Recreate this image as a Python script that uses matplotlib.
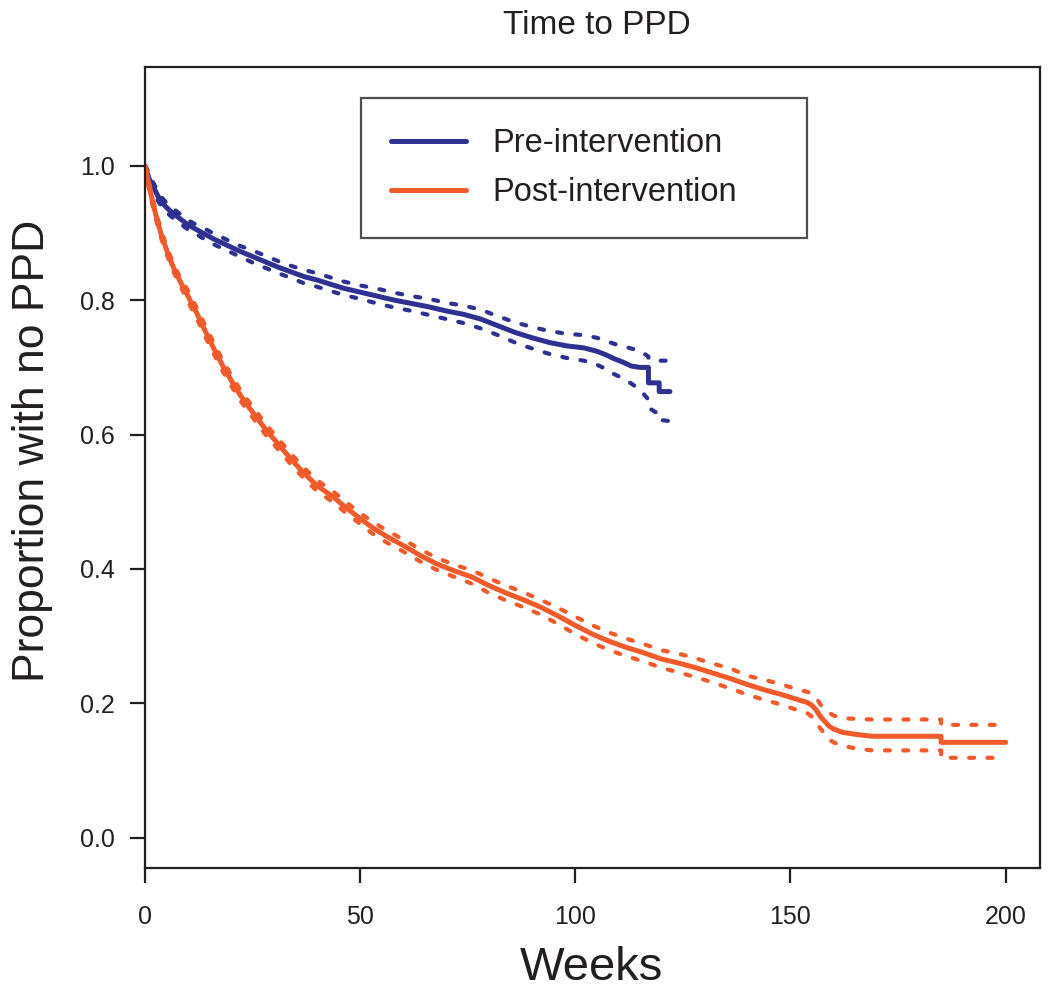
import matplotlib
matplotlib.use("Agg")
import matplotlib.pyplot as plt

plt.rcParams['font.family'] = ['Liberation Sans', 'DejaVu Sans']

# Pre-intervention Kaplan-Meier curve (weeks, survival, 95% CI)
pre_t = [0, 0.5, 1, 2, 3, 4, 5, 6, 8, 10, 12, 14, 16, 18, 20, 22, 25, 28, 31, 34,
         37, 40, 43, 46, 50, 54, 58, 62, 66, 70, 74, 78, 82, 86, 90, 94, 98, 102,
         105, 107, 109, 111, 113, 115, 117, 117, 119.5, 119.5, 122]
pre_s = [1.0, 0.99, 0.98, 0.968, 0.955, 0.945, 0.938, 0.932, 0.922, 0.912, 0.905,
         0.898, 0.891, 0.885, 0.879, 0.873, 0.865, 0.857, 0.849, 0.842, 0.835, 0.83,
         0.824, 0.818, 0.812, 0.806, 0.80, 0.795, 0.79, 0.784, 0.779, 0.772, 0.762,
         0.752, 0.744, 0.737, 0.732, 0.729, 0.724, 0.719, 0.713, 0.708, 0.702, 0.700,
         0.700, 0.677, 0.677, 0.664, 0.664]
pre_lo = [1.0, 0.985, 0.974, 0.962, 0.948, 0.938, 0.931, 0.925, 0.915, 0.905, 0.898,
          0.890, 0.883, 0.877, 0.871, 0.865, 0.856, 0.848, 0.840, 0.833, 0.825, 0.82,
          0.814, 0.808, 0.802, 0.795, 0.789, 0.784, 0.778, 0.772, 0.766, 0.758, 0.748,
          0.737, 0.728, 0.720, 0.714, 0.710, 0.704, 0.698, 0.690, 0.684, 0.676, 0.667,
          0.652, 0.640, 0.630, 0.622, 0.620]
pre_hi = [1.0, 0.995, 0.986, 0.974, 0.962, 0.952, 0.945, 0.939, 0.929, 0.919, 0.912,
          0.906, 0.899, 0.893, 0.887, 0.881, 0.874, 0.866, 0.858, 0.851, 0.845, 0.84,
          0.834, 0.828, 0.822, 0.817, 0.811, 0.806, 0.802, 0.796, 0.792, 0.786, 0.776,
          0.767, 0.760, 0.754, 0.750, 0.748, 0.744, 0.740, 0.735, 0.732, 0.728, 0.725,
          0.716, 0.713, 0.710, 0.710, 0.710]

# Post-intervention Kaplan-Meier curve
post_t = [0, 0.5, 1, 2, 3, 4, 5, 6, 7, 8, 9, 10, 11, 12, 13, 14, 15, 16, 17, 18, 19,
          20, 22, 24, 26, 28, 30, 32, 34, 36, 38, 40, 42, 44, 46, 48, 50, 53, 56, 60,
          64, 68, 72, 76, 80, 84, 88, 92, 96, 100, 104, 108, 112, 116, 120, 124, 128,
          132, 136, 140, 144, 148, 152, 154, 155, 156, 157, 158, 159, 160, 162, 165,
          169, 185, 185, 200]
post_s = [1.0, 0.985, 0.968, 0.94, 0.915, 0.893, 0.875, 0.858, 0.843, 0.83, 0.818,
          0.806, 0.793, 0.781, 0.768, 0.754, 0.741, 0.728, 0.716, 0.703, 0.692, 0.681,
          0.66, 0.642, 0.625, 0.608, 0.593, 0.578, 0.563, 0.549, 0.536, 0.524, 0.515,
          0.506, 0.495, 0.485, 0.475, 0.461, 0.449, 0.435, 0.42, 0.407, 0.397, 0.388,
          0.375, 0.364, 0.354, 0.343, 0.330, 0.316, 0.303, 0.292, 0.283, 0.275, 0.266,
          0.26, 0.253, 0.245, 0.237, 0.228, 0.22, 0.213, 0.205, 0.201, 0.197, 0.19,
          0.18, 0.173, 0.166, 0.162, 0.157, 0.154, 0.151, 0.151, 0.142, 0.142]
post_lo = [1.0, 0.979, 0.962, 0.934, 0.909, 0.887, 0.869, 0.852, 0.837, 0.824, 0.811,
           0.798, 0.785, 0.773, 0.760, 0.746, 0.733, 0.720, 0.708, 0.695, 0.684, 0.673,
           0.652, 0.634, 0.617, 0.600, 0.585, 0.570, 0.555, 0.541, 0.528, 0.516, 0.507,
           0.498, 0.487, 0.477, 0.467, 0.452, 0.440, 0.426, 0.411, 0.398, 0.388, 0.378,
           0.364, 0.353, 0.343, 0.332, 0.318, 0.303, 0.290, 0.279, 0.270, 0.262, 0.253,
           0.246, 0.239, 0.231, 0.222, 0.213, 0.205, 0.198, 0.189, 0.185, 0.180, 0.172,
           0.162, 0.155, 0.146, 0.142, 0.137, 0.133, 0.130, 0.130, 0.119, 0.119]
post_hi = [1.0, 0.991, 0.974, 0.946, 0.921, 0.899, 0.881, 0.864, 0.849, 0.836, 0.825,
           0.814, 0.801, 0.789, 0.776, 0.762, 0.749, 0.736, 0.724, 0.711, 0.700, 0.689,
           0.668, 0.650, 0.633, 0.616, 0.601, 0.586, 0.571, 0.557, 0.544, 0.532, 0.523,
           0.514, 0.503, 0.493, 0.483, 0.470, 0.458, 0.444, 0.429, 0.416, 0.406, 0.398,
           0.386, 0.375, 0.365, 0.354, 0.342, 0.329, 0.316, 0.305, 0.296, 0.288, 0.279,
           0.274, 0.267, 0.259, 0.252, 0.241, 0.235, 0.228, 0.220, 0.217, 0.214, 0.208,
           0.198, 0.191, 0.186, 0.182, 0.178, 0.177, 0.176, 0.176, 0.168, 0.168]

blue = '#2e3192'
red = '#f15a2b'
ink = '#231f20'

fig = plt.figure(figsize=(10.5, 9.93), dpi=100)
ax = fig.add_axes([0.1381, 0.1259, 0.8524, 0.8066])

for t, s, lo, hi, c, lab in [(pre_t, pre_s, pre_lo, pre_hi, blue, 'Pre-intervention'),
                             (post_t, post_s, post_lo, post_hi, red, 'Post-intervention')]:
    ax.plot(t, s, color=c, lw=3.6, label=lab, solid_capstyle='round')
    for band in (lo, hi):
        ax.plot(t, band, color=c, lw=3.0, dashes=(1.2, 3.2), dash_capstyle='round')

ax.set_xlim(0, 208)
ax.set_ylim(-0.045, 1.147)
ax.set_xticks([0, 50, 100, 150, 200])
ax.set_yticks([0.0, 0.2, 0.4, 0.6, 0.8, 1.0])
ax.set_yticklabels(['0.0', '0.2', '0.4', '0.6', '0.8', '1.0'])
ax.tick_params(direction='out', length=11, width=1.6, colors=ink, labelsize=18)
ax.tick_params(axis='x', pad=16)
ax.tick_params(axis='y', pad=11)
for sp in ax.spines.values():
    sp.set_linewidth(1.6)
    sp.set_color(ink)

fig.text(591 / 1050, 1 - 968 / 993, 'Weeks', fontsize=34, color=ink,
         ha='center', va='center')
fig.text(33 / 1050, 1 - 451 / 993, 'Proportion with no PPD', fontsize=32,
         color=ink, ha='center', va='center', rotation=90)
fig.text(597 / 1050, 1 - 25 / 993, 'Time to PPD', fontsize=24, color=ink,
         ha='center', va='center')

leg = ax.legend(loc='upper left', bbox_to_anchor=(0.2413, 0.7878, 0.4984, 0.1735),
                mode='expand', fontsize=23.5, frameon=True, fancybox=False,
                edgecolor=ink, handlelength=2.3, handletextpad=0.8,
                borderpad=0.92, labelspacing=0.55, borderaxespad=0)
leg.get_frame().set_linewidth(1.6)
for txt in leg.get_texts():
    txt.set_color(ink)

fig.savefig('out.png', dpi=100)
